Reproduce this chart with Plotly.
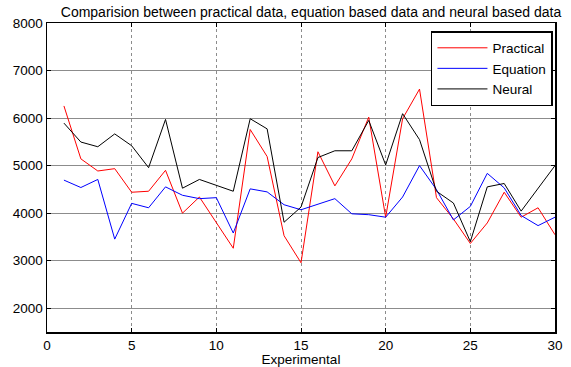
import plotly.graph_objects as go

x = list(range(1, 31))
practical = [6255, 5142, 4887, 4936, 4440, 4461, 4901, 4000, 4340, 3809,
             3262, 5759, 5191, 3525, 2957, 5291, 4574, 5142, 6020, 3915,
             5986, 6610, 4326, 3879, 3362, 3794, 4440, 3915, 4113, 3546]
equation = [4695, 4539, 4709, 3454, 4206, 4113, 4553, 4376, 4305, 4326,
            3582, 4511, 4447, 4177, 4071, 4184, 4305, 3986, 3968, 3915,
            4340, 5000, 4496, 3858, 4142, 4837, 4532, 3950, 3738, 3915]
neural = [5894, 5496, 5397, 5667, 5418, 4957, 5972, 4525, 4709, 4589,
          4461, 5986, 5773, 3809, 4128, 5170, 5312, 5312, 5950, 5014,
          6092, 5546, 4461, 4213, 3400, 4553, 4624, 4043, 4518, 5000]

title = "Comparision between practical data, equation based data and neural based data"
xlabel = "Experimental"
FONT = "Liberation Sans, Arial, sans-serif"

fig = go.Figure()
for name, ys, col in [("Practical", practical, "#ff0000"),
                      ("Equation", equation, "#0000ff"),
                      ("Neural", neural, "#000000")]:
    fig.add_trace(go.Scatter(x=x, y=ys, mode="lines", name=name,
                             line=dict(color=col, width=1)))

axis_common = dict(showline=True, linecolor="black", linewidth=1.5, mirror="ticks",
                   ticks="inside", ticklen=4, tickcolor="black", automargin=False,
                   showgrid=True, gridcolor="#8c8c8c", gridwidth=1,
                   zeroline=False, tickfont=dict(family=FONT, size=13.5, color="black"))

fig.update_layout(
    width=571, height=367,
    margin=dict(l=47, r=16, t=23, b=35),
    paper_bgcolor="white", plot_bgcolor="white",
    title=dict(text=title, x=311 / 571, xanchor="center", xref="container",
               y=1 - 12 / 367, yanchor="middle", automargin=False,
               font=dict(family=FONT, size=14, color="black")),
    xaxis=dict(range=[0, 30], dtick=5, tick0=0, griddash="dot",
               title=dict(text=xlabel, standoff=0, font=dict(family=FONT, size=13.5, color="black")),
               **axis_common),
    yaxis=dict(range=[1500, 8000], tickvals=[2000, 3000, 4000, 5000, 6000, 7000, 8000],
               **axis_common),
    legend=dict(x=0.996, y=0.974, xanchor="right", yanchor="top",
                bordercolor="black", borderwidth=1.5, bgcolor="white",
                font=dict(family=FONT, size=13.5, color="black"),
                itemwidth=50, tracegroupgap=0),
    showlegend=True,
    hovermode=False,
)

fig.write_html("out.html", config={"displayModeBar": False, "staticPlot": True},
               post_script="document.body.style.margin='0';document.body.style.overflow='hidden';")
